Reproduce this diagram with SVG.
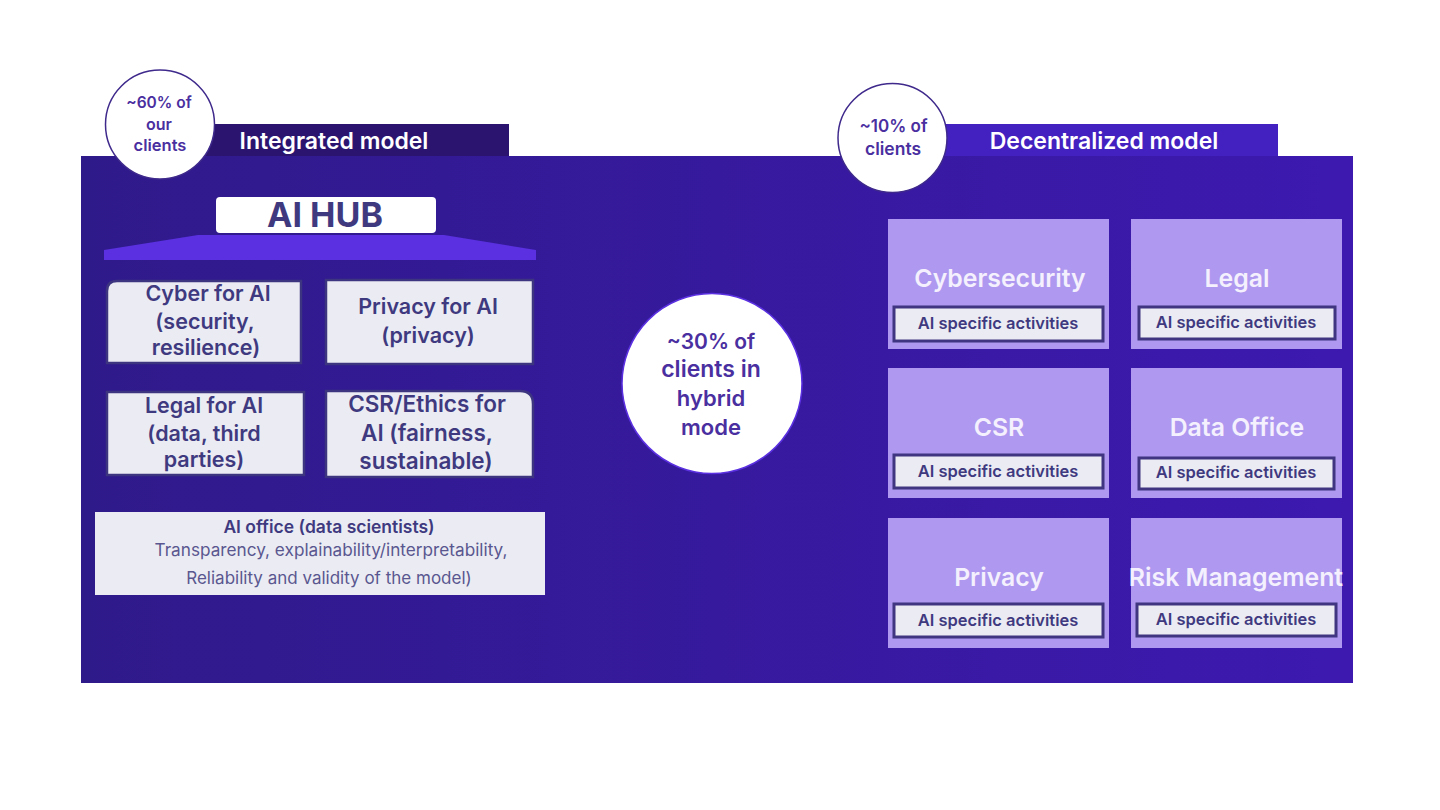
<svg xmlns="http://www.w3.org/2000/svg" width="1440" height="810" viewBox="0 0 1440 810">
<style>
text{font-family:Inter,"Liberation Sans",sans-serif;text-anchor:middle;font-weight:600}
.d{fill:#3f3a80}.w{fill:#fff}.p{fill:#4a2fa0}
.g{fill:#ebecf3;stroke:#3d3580;stroke-width:2.5}
.t{font-size:21.5px}.t2{font-size:22.5px}.big{font-size:24.8px;fill:#f4f0fd}.a{font-size:16.5px;fill:#3f3a80}
.tile{fill:#af98ef}.box{fill:#ebecf3;stroke:#3f3580;stroke-width:3}
.c{fill:#fff;stroke:#3f2a8c;stroke-width:1.5}
</style>
<defs><linearGradient id="bg" x1="0" x2="1" y1="0" y2="0"><stop offset="0" stop-color="#2f1a8a"/><stop offset="1" stop-color="#3d19b0"/></linearGradient></defs>
<rect width="1440" height="810" fill="#fff"/>
<rect x="81" y="156" width="1272" height="527" fill="url(#bg)"/>
<g id="integrated-header"><rect x="200" y="124" width="309" height="32" fill="#2a1470"/><text x="334" y="149" font-size="23" class="w">Integrated model</text></g>
<g id="decentralized-header"><rect x="930" y="124" width="348" height="32" fill="#4320c0"/><text x="1104" y="149" font-size="23" class="w">Decentralized model</text></g>
<g id="badge-60"><circle cx="160" cy="124.500" r="54.500" class="c"/><text x="159" y="108" font-size="15.500" class="p">~60% of</text><text x="159" y="130" font-size="16" class="p">our</text><text x="160" y="151" font-size="16.500" class="p">clients</text></g>
<g id="badge-10"><circle cx="892.500" cy="138" r="54.500" class="c"/><text x="893.500" y="132" font-size="17" class="p">~10% of</text><text x="893" y="155" font-size="17.500" class="p">clients</text></g>
<g id="ai-hub"><rect x="216" y="197" width="220" height="36" rx="4" fill="#fff"/><text x="325" y="227" font-size="34" class="d" style="font-weight:700">AI HUB</text><path d="M104 250L198 235H444L536 250V260H104Z" fill="#5a30e0"/></g>
<g id="cyber"><path d="M107 363V291Q107 281 117 281H301V363Z" class="g"/><text x="208" y="301" class="t d">Cyber for AI</text><text x="205" y="329" class="t d">(security,</text><text x="206" y="355" class="t d">resilience)</text></g>
<g id="privacy-ai"><rect x="326" y="280" width="207" height="84" class="g"/><text x="428" y="314" class="t d">Privacy for AI</text><text x="428" y="343" class="t d">(privacy)</text></g>
<g id="legal-ai"><rect x="107" y="392" width="197" height="83" class="g"/><text x="204" y="413" class="t d">Legal for AI</text><text x="204" y="441" class="t d">(data, third</text><text x="204" y="467" class="t d">parties)</text></g>
<g id="csr-ai"><path d="M326 391H520Q533 391 533 404V477H326Z" class="g"/><text x="427" y="412" class="t2 d">CSR/Ethics for</text><text x="427" y="441" class="t2 d">AI (fairness,</text><text x="426" y="469" class="t2 d">sustainable)</text></g>
<g id="ai-office"><rect x="95" y="512" width="450" height="83" fill="#ebecf3"/><text x="329" y="533" font-size="17.500" class="d">AI office (data scientists)</text><text x="331" y="556" font-size="17.200" fill="#5a5790" style="font-weight:400">Transparency, explainability/interpretability,</text><text x="329" y="584" font-size="17" fill="#5a5790" style="font-weight:400">Reliability and validity of the model)</text></g>
<g id="hybrid"><circle cx="712" cy="383.500" r="90" fill="#fff" stroke="#5a30e0" stroke-width="1.500"/><text x="711" y="349" font-size="21" class="p">~30% of</text><text x="711" y="377" font-size="23" class="p">clients in</text><text x="711" y="406" font-size="22" class="p">hybrid</text><text x="711" y="435" font-size="22" class="p">mode</text></g>
<g id="cybersecurity"><rect x="888" y="219" width="221" height="130" class="tile"/><text x="1000" y="287" class="big">Cybersecurity</text><rect x="894" y="307" width="209" height="34" class="box"/><text x="998" y="329" class="a">AI specific activities</text></g>
<g id="legal"><rect x="1131" y="219" width="211" height="130" class="tile"/><text x="1237" y="287" class="big">Legal</text><rect x="1139" y="307" width="196" height="32" class="box"/><text x="1236" y="328" class="a">AI specific activities</text></g>
<g id="csr"><rect x="888" y="368" width="221" height="130" class="tile"/><text x="999" y="436" class="big">CSR</text><rect x="894" y="455" width="209" height="33" class="box"/><text x="998" y="477" class="a">AI specific activities</text></g>
<g id="data-office"><rect x="1131" y="368" width="211" height="130" class="tile"/><text x="1237" y="436" class="big">Data Office</text><rect x="1139" y="458" width="195" height="31" class="box"/><text x="1236" y="478" class="a">AI specific activities</text></g>
<g id="privacy"><rect x="888" y="518" width="221" height="130" class="tile"/><text x="999" y="586" class="big">Privacy</text><rect x="894" y="604" width="209" height="33" class="box"/><text x="998" y="626" class="a">AI specific activities</text></g>
<g id="risk"><rect x="1131" y="518" width="211" height="130" class="tile"/><text x="1236" y="586" class="big">Risk Management</text><rect x="1137" y="604" width="199" height="32" class="box"/><text x="1236" y="625" class="a">AI specific activities</text></g>
<g id="connectors"/>
</svg>
